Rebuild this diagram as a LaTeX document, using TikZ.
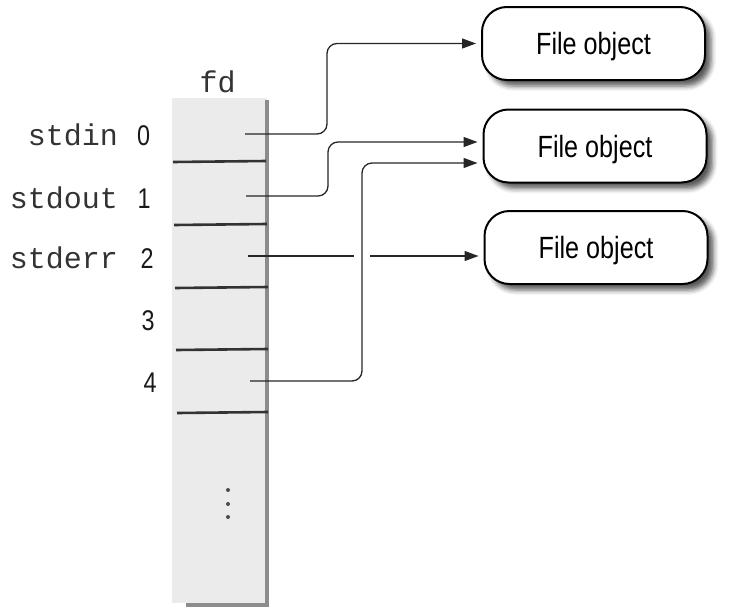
\documentclass[tikz,border=0pt]{standalone}
\usepackage{fontspec}
\newfontfamily\condsans[FakeStretch=0.82]{Liberation Sans}
\newfontfamily\typewriter{Liberation Mono}
\usetikzlibrary{arrows.meta,shadows.blur,calc}

\begin{document}
\begin{tikzpicture}[x=1pt,y=-1pt,
  fileobj/.style={draw=black, line width=2pt, rounded corners=25pt, fill=white,
    minimum width=223pt, minimum height=73pt, inner sep=0pt,
    font=\condsans\fontsize{30.7}{36}\selectfont, text height=22pt, text depth=0pt,
    blur shadow={shadow xshift=6pt, shadow yshift=-6pt, shadow blur radius=5pt, shadow opacity=65}},
  namelabel/.style={anchor=base east, inner sep=0pt, font=\typewriter\fontsize{30}{34}\selectfont, text=black!80},
  numlabel/.style={anchor=base, inner sep=0pt, font=\condsans\fontsize{28.5}{32}\selectfont, text=black!90},
  divider/.style={line width=2.6pt, draw=black!80},
  conn/.style={line width=1.3pt, draw=black!85, rounded corners=10pt,
    -{Triangle[length=14pt,width=10pt]}, shorten >=5pt},
  tableshade/.style={fill=black!45, draw=none}
]
\useasboundingbox (0,0) rectangle (738,613);

% descriptor table column
\node[fill=black!8, draw=none, inner sep=0pt, minimum width=95pt, minimum height=505pt,
      anchor=north west] (fdcol) at (172,98) {};
\fill[tableshade] (265,100) rectangle (269,607);
\fill[tableshade] (186,603) rectangle (269,607);

% slot dividers
\draw[divider] (173,162) -- (266,161);
\draw[divider] (174,225) -- (267,224);
\draw[divider] (175,288) -- (268,287);
\draw[divider] (176,350) -- (268,349);
\draw[divider] (177,413) -- (268,412);

% continuation dots
\fill[black!70] (228,490) circle (2pt);
\fill[black!70] (228,504) circle (2pt);
\fill[black!70] (228,517) circle (2pt);

% column heading and slot labels
\node[anchor=base, inner sep=0pt, font=\typewriter\fontsize{30}{34}\selectfont, text=black!80] (fd) at (217.5,92) {fd};
\node[namelabel] (n0) at (118,145) {stdin};
\node[namelabel] (n1) at (118,208) {stdout};
\node[namelabel] (n2) at (118,268) {stderr};
\node[numlabel] (d0) at (143.5,145) {0};
\node[numlabel] (d1) at (144,208) {1};
\node[numlabel] (d2) at (147,268) {2};
\node[numlabel] (d3) at (148,330) {3};
\node[numlabel] (d4) at (150,392) {4};

% file objects
\node[fileobj] (b1) at (593.5,43.5) {File object};
\node[fileobj] (b2) at (595,146) {File object};
\node[fileobj] (b3) at (596,247.5) {File object};

% connector anchor points
\coordinate (s0) at (245,134);
\coordinate (s1) at (246,196);
\coordinate (s2) at (248,256);
\coordinate (s4) at (250,381);
\coordinate (v0) at (327,0);
\coordinate (v1) at (328,0);
\coordinate (v4) at (362,0);
\coordinate (y2) at (0,142);
\coordinate (y4) at (0,163);
\coordinate (g1) at (354,256);
\coordinate (g2) at (370,256);

% connectors
\draw[conn] (s0) -- (s0 -| v0) -- (v0 |- b1.west) -- (b1.west);
\draw[conn] (s1) -- (s1 -| v1) -- (v1 |- y2) -- (b2.west |- y2);
\draw[conn] (s2) -- (g1) (g2) -- (b3.west |- s2);
\draw[conn] (s4) -- (s4 -| v4) -- (v4 |- y4) -- (b2.west |- y4);
\end{tikzpicture}
\end{document}
